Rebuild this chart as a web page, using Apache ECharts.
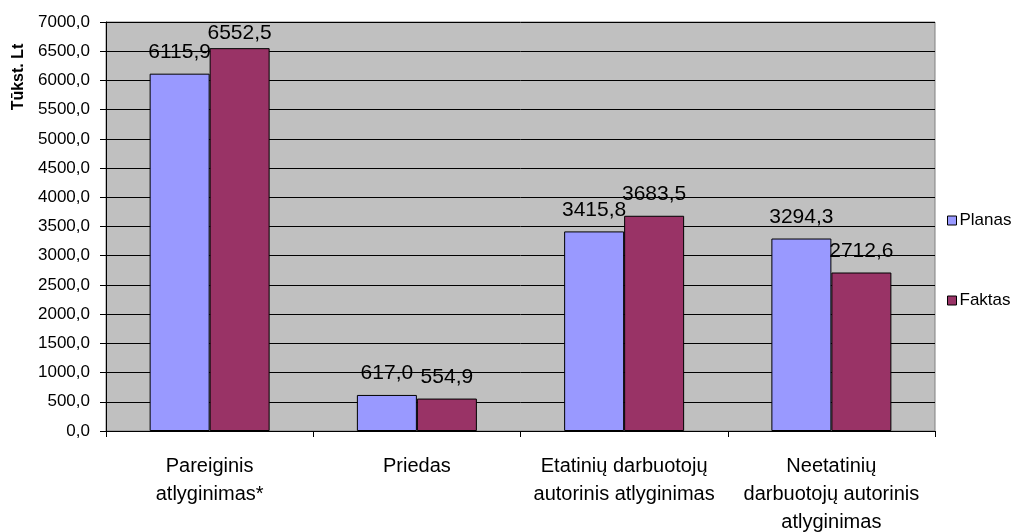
<!DOCTYPE html>
<html><head><meta charset="utf-8">
<script src="https://cdn.jsdelivr.net/npm/echarts@6/dist/echarts.min.js"></script>
<style>html,body{margin:0;padding:0;background:#fff}#c{width:1018px;height:532px}</style>
</head><body><div id="c"></div>
<script>
const categories = ["Pareiginis\natlyginimas*", "Priedas", "Etatinių darbuotojų\nautorinis atlyginimas", "Neetatinių\ndarbuotojų autorinis\natlyginimas"];
const planas = [6115.9, 617.0, 3415.8, 3294.3];
const faktas = [6552.5, 554.9, 3683.5, 2712.6];
const seriesNames = ["Planas", "Faktas"];
const yTitle = "Tūkst. Lt";

const fmt = v => v.toFixed(1).replace('.', ',');
const chart = echarts.init(document.getElementById('c'), null, {renderer: 'canvas'});
const font = 'Liberation Sans, Arial, sans-serif';
const labelCfg = {show: true, position: 'top', distance: 11, fontSize: 21, color: '#000', formatter: p => fmt(p.value), fontFamily: font};
// labels near the plot top are pushed down, as in the reference
const withLabels = arr => arr.map(v => v > 6300 ? {value: v, label: {distance: 4}} : v);
chart.setOption({
  animation: false,
  textStyle: {fontFamily: font},
  grid: {left: 106, right: 83, top: 22, bottom: 101, outerBoundsMode: 'none', containLabel: false,
         show: true, backgroundColor: '#C0C0C0', borderColor: '#808080', borderWidth: 1},
  graphic: [{
    type: 'text', x: 19, y: 77, rotation: Math.PI / 2,
    style: {text: yTitle, font: 'bold 16px Liberation Sans, Arial, sans-serif', fill: '#000', align: 'center', verticalAlign: 'middle'}
  }],
  legend: {
    orient: 'vertical', left: 942, top: 207, itemWidth: 9, itemHeight: 9, itemGap: 63,
    icon: 'rect',
    itemStyle: {borderColor: '#000', borderWidth: 1},
    textStyle: {fontSize: 17, color: '#000', fontFamily: font, padding: [0, 0, 0, -2]},
    data: seriesNames
  },
  xAxis: {
    type: 'category', data: categories,
    axisLine: {lineStyle: {color: '#000', width: 1}},
    axisTick: {show: true, length: 6, lineStyle: {color: '#000'}},
    axisLabel: {fontSize: 20, color: '#000', lineHeight: 28, margin: 21, interval: 0, fontFamily: font}
  },
  yAxis: {
    type: 'value', min: 0, max: 7000, interval: 500,
    axisLine: {show: true, lineStyle: {color: '#000'}},
    axisTick: {show: true, length: 6, lineStyle: {color: '#000'}},
    axisLabel: {fontSize: 17, color: '#000', formatter: v => fmt(v), margin: 16, fontFamily: font},
    splitLine: {show: true, lineStyle: {color: '#000', width: 1}}
  },
  series: [
    {name: seriesNames[0], type: 'bar', data: withLabels(planas), barWidth: 60, barGap: '0%',
     itemStyle: {color: '#9999FF', borderColor: '#000', borderWidth: 1}, label: labelCfg},
    {name: seriesNames[1], type: 'bar', data: withLabels(faktas), barWidth: 60, barGap: '0%',
     itemStyle: {color: '#993366', borderColor: '#000', borderWidth: 1}, label: labelCfg}
  ]
});
</script></body></html>
